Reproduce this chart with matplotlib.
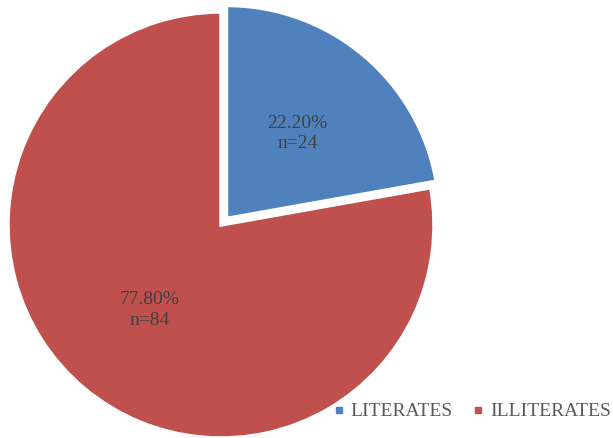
import matplotlib
matplotlib.use("Agg")
import matplotlib.pyplot as plt
from matplotlib.lines import Line2D

labels = ["LITERATES", "ILLITERATES"]
percents = [22.20, 77.80]
counts = [24, 84]
colors = ["#4F81BD", "#C0504D"]

plt.rcParams["font.family"] = ["Liberation Serif", "DejaVu Serif"]

fig = plt.figure(figsize=(6.13, 4.38), dpi=100)
ax = fig.add_axes([8 / 613, 0 / 438, 426 / 613, 426 / 438])

texts = iter(["{:.2f}%\nn={}".format(p, n) for p, n in zip(percents, counts)])
wedges, _, autotexts = ax.pie(
    percents, colors=colors, startangle=90, counterclock=False,
    explode=[0.04, 0], autopct=lambda v: next(texts), pctdistance=0.52,
    wedgeprops=dict(edgecolor="white", linewidth=2.5),
    textprops=dict(fontsize=14, color="#404040", linespacing=1.25),
)
ax.set_xlim(-1, 1)
ax.set_ylim(-1, 1)
ax.set_aspect("equal")

handles = [Line2D([], [], marker="s", linestyle="", markersize=5,
                  markerfacecolor=c, markeredgecolor=c) for c in colors]
fig.legend(handles, labels, loc="lower right", bbox_to_anchor=(1.025, 0.0),
           ncol=2, frameon=False, fontsize=14, labelcolor="#595959",
           handlelength=0.6, handletextpad=0.3, columnspacing=1.0)

fig.savefig("out.png", dpi=100)
